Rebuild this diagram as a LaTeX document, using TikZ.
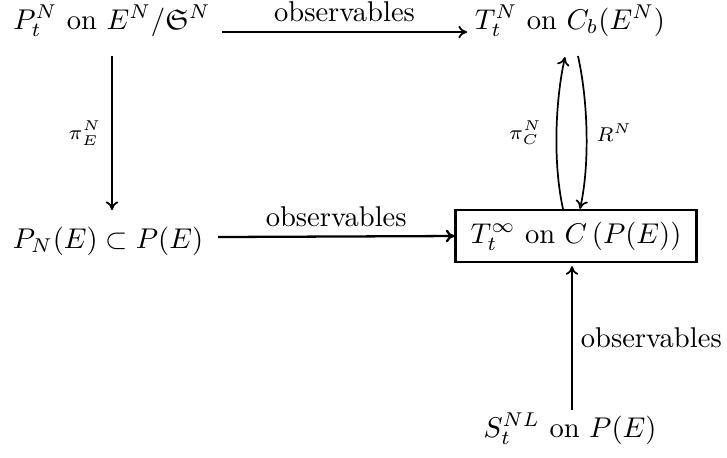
\documentclass[tikz,border=0pt]{standalone}
\usepackage{amsmath,amssymb}
\usetikzlibrary{arrows.meta,calc}
\newcommand{\ux}{0.35pt}
\begin{document}
\begin{tikzpicture}[x=0.35pt,y=-0.35pt,
  obj/.style={inner sep=0pt,anchor=base},
  lab/.style={inner sep=0pt},
  ar/.style={line width=0.6pt,-{Computer Modern Rightarrow[length=3pt,width=4.4pt]}},
  arthick/.style={line width=0.8pt,-{Computer Modern Rightarrow[length=3pt,width=4.4pt]}}]
\useasboundingbox (0,0) rectangle (727,457);
% objects
\node[obj] (A) at (112,29) {$P_t^N$ on $E^N/\mathfrak{S}^N$};
\node[obj] (B) at (570,29) {$T_t^N$ on $C_b(E^N)$};
\node[obj] (C) at (108,248) {$P_N(E)\subset P(E)$};
\node[draw,line width=0.8pt,minimum width=241*\ux,minimum height=52*\ux,inner sep=0pt] (T) at (576,236) {$T_t^\infty$ on $C\left(P(E)\right)$};
\node[obj] (D) at (570,437) {$S_t^{NL}$ on $P(E)$};
% top arrow
\draw[ar] ($(A.base)+(110,3)$) -- node[lab,above=9*\ux] {observables} ($(B.base)+(-103,3)$);
% left vertical
\draw[ar] ($(A.base)+(0,27)$) -- node[lab,left=10*\ux] {$\scriptstyle\pi_E^N$} ($(C.base)+(4,-38)$);
% middle arrow
\draw[arthick] ($(C.base)+(110,-11)$) -- node[lab,above=9*\ux] {observables} (T.west);
% curved arrows
\draw[ar] ($(T.north)+(-13,0)$) .. controls +(-10,-45) and +(-10,45) .. node[lab,left=14*\ux] {$\scriptstyle\pi_C^N$} ($(B.base)+(-5,28)$);
\draw[ar] ($(B.base)+(8,27)$) .. controls +(10,45) and +(10,-45) .. node[lab,right=9*\ux] {$\scriptstyle R^N$} ($(T.north)+(4,0)$);
% bottom arrow
\draw[ar] ($(D.base)+(2,-27)$) -- node[lab,right=8*\ux] {observables} ($(T.south)+(-4,3)$);
\end{tikzpicture}
\end{document}
